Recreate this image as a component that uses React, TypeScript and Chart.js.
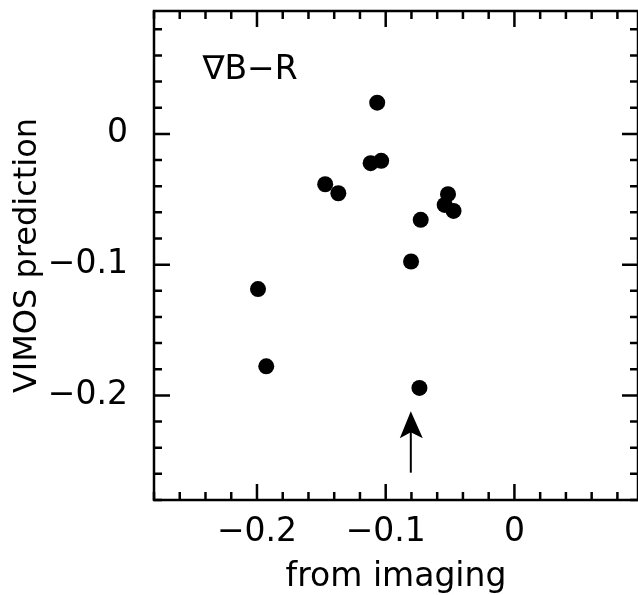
import React, { useEffect, useRef } from "react";
import { Chart, registerables } from "chart.js";

Chart.register(...registerables);

// ---- data ----
const xValues = [-0.1066, -0.1117, -0.1035, -0.147, -0.1368, -0.0516, -0.0542, -0.0473, -0.0728, -0.0803, -0.1992, -0.1928, -0.0738];
const yValues = [0.0239, -0.0224, -0.0206, -0.0385, -0.0454, -0.0461, -0.0543, -0.0589, -0.0657, -0.0976, -0.1187, -0.1778, -0.1943];
const xTickValues = [-0.2, -0.1, 0];
const yTickValues = [-0.2, -0.1, 0];
const xRange = [-0.28, 0.096];
const yRange = [-0.28, 0.094];
const minorStep = 0.02;
const xTitle = "from imaging";
const yTitle = "VIMOS prediction";
const panelLabel = "∇B−R";
const panelLabelAt = [-0.2424, 0.0489];
const arrowX = -0.0805;
const arrowFromY = -0.2591;
const arrowToY = -0.2122;

const FONT = "'DejaVu Sans', sans-serif";

const fmt = (v: number) => {
  if (Math.abs(v) < 1e-9) return "0";
  const s = Math.abs(v).toFixed(1);
  return (v < 0 ? "\u2212" : "") + s;
};

const decorPlugin = {
  id: "decor",
  afterDatasetsDraw(chart: any) {
    const { ctx, chartArea: a, scales } = chart;
    const xs = scales.x;
    const ys = scales.y;
    ctx.save();
    ctx.strokeStyle = "#000";
    ctx.fillStyle = "#000";
    ctx.lineCap = "butt";

    // frame
    ctx.lineWidth = 2.5;
    ctx.strokeRect(a.left, a.top, a.right - a.left, a.bottom - a.top);

    // ticks
    const isMajor = (v: number) => Math.abs(v / 0.1 - Math.round(v / 0.1)) < 1e-6;
    ctx.lineWidth = 2.5;
    const xStart = Math.ceil(xRange[0] / minorStep - 1e-9);
    const xEnd = Math.floor(xRange[1] / minorStep + 1e-9);
    for (let i = xStart; i <= xEnd; i++) {
      const v = i * minorStep;
      const len = isMajor(v) ? 16 : 8;
      const px = xs.getPixelForValue(v);
      ctx.beginPath();
      ctx.moveTo(px, a.bottom);
      ctx.lineTo(px, a.bottom - len);
      ctx.moveTo(px, a.top);
      ctx.lineTo(px, a.top + len);
      ctx.stroke();
    }
    const yStart = Math.ceil(yRange[0] / minorStep - 1e-9);
    const yEnd = Math.floor(yRange[1] / minorStep + 1e-9);
    for (let i = yStart; i <= yEnd; i++) {
      const v = i * minorStep;
      const len = isMajor(v) ? 16 : 8;
      const py = ys.getPixelForValue(v);
      ctx.beginPath();
      ctx.moveTo(a.left, py);
      ctx.lineTo(a.left + len, py);
      ctx.moveTo(a.right, py);
      ctx.lineTo(a.right - len, py);
      ctx.stroke();
    }

    // arrow
    const ax = xs.getPixelForValue(arrowX);
    const ay0 = ys.getPixelForValue(arrowFromY);
    const ay1 = ys.getPixelForValue(arrowToY);
    ctx.lineWidth = 2;
    ctx.beginPath();
    ctx.moveTo(ax, ay0);
    ctx.lineTo(ax, ay1 + 20);
    ctx.stroke();
    ctx.beginPath();
    ctx.moveTo(ax, ay1);
    ctx.lineTo(ax - 11, ay1 + 27);
    ctx.lineTo(ax, ay1 + 21);
    ctx.lineTo(ax + 12, ay1 + 27);
    ctx.closePath();
    ctx.fill();

    // panel label
    ctx.font = `33px ${FONT}`;
    ctx.textAlign = "left";
    ctx.textBaseline = "middle";
    ctx.fillText(panelLabel, xs.getPixelForValue(panelLabelAt[0]), ys.getPixelForValue(panelLabelAt[1]));
    ctx.restore();
  },
};

const zeroPad = (s: any) => {
  s.paddingTop = 0;
  s.paddingBottom = 0;
  s.paddingLeft = 0;
  s.paddingRight = 0;
};

export default function App() {
  const ref = useRef<HTMLCanvasElement>(null);
  useEffect(() => {
    document.body.style.margin = "0";
    const canvas = ref.current!;
    const chart = new Chart(canvas, {
      type: "scatter",
      data: {
        datasets: [
          {
            data: xValues.map((x, i) => ({ x, y: yValues[i] })),
            backgroundColor: "#000",
            borderWidth: 0,
            pointRadius: 8,
            pointHoverRadius: 8,
          },
        ],
      },
      options: {
        responsive: false,
        animation: false,
        events: [],
        layout: { padding: { top: 11, right: 1, left: 0, bottom: 0 } },
        plugins: { legend: { display: false }, tooltip: { enabled: false } },
        scales: {
          x: {
            type: "linear",
            min: xRange[0],
            max: xRange[1],
            afterBuildTicks: (s: any) => {
              s.ticks = xTickValues.map((v) => ({ value: v }));
            },
            afterFit: (s: any) => {
              s.height = 95;
              zeroPad(s);
            },
            grid: { display: false, drawTicks: false },
            border: { display: false },
            ticks: {
              color: "#000",
              font: { family: FONT, size: 33, lineHeight: 1 },
              padding: 16,
              maxRotation: 0,
              autoSkip: false,
              callback: (v: any) => fmt(Number(v)),
            },
            title: {
              display: true,
              text: xTitle,
              color: "#000",
              font: { family: FONT, size: 33, lineHeight: 1 },
              padding: { top: 0, bottom: 1 },
            },
          },
          y: {
            type: "linear",
            min: yRange[0],
            max: yRange[1],
            afterBuildTicks: (s: any) => {
              s.ticks = yTickValues.map((v) => ({ value: v }));
            },
            afterFit: (s: any) => {
              s.width = 154;
              zeroPad(s);
            },
            grid: { display: false, drawTicks: false },
            border: { display: false },
            ticks: {
              color: "#000",
              font: { family: FONT, size: 33, lineHeight: 1 },
              padding: 26,
              autoSkip: false,
              callback: (v: any) => fmt(Number(v)),
            },
            title: {
              display: true,
              text: yTitle,
              color: "#000",
              font: { family: FONT, size: 32, lineHeight: 1 },
              padding: { top: 12, bottom: 0 },
            },
          },
        },
      },
      plugins: [decorPlugin],
    } as any);
    return () => chart.destroy();
  }, []);
  return (
    <div style={{ width: 638, height: 595, overflow: "hidden", position: "relative", background: "#fff" }}>
      <canvas ref={ref} width={646} height={595} style={{ display: "block", width: 646, height: 595 }} />
    </div>
  );
}
